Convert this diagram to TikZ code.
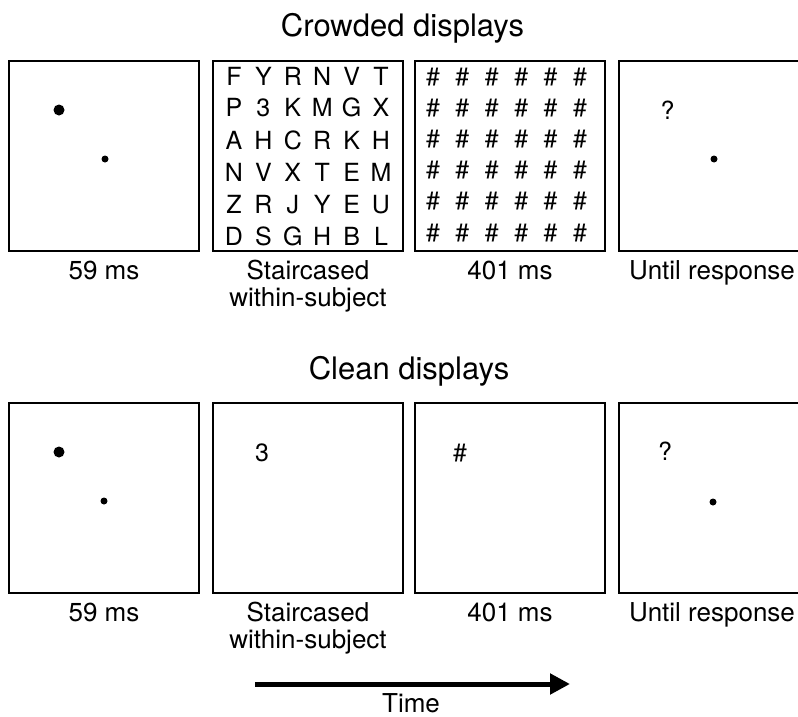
\documentclass[tikz,border=0pt]{standalone}
\usepackage{fontspec}
\setmainfont{TeX Gyre Heros}
\usetikzlibrary{arrows.meta}
\begin{document}
\begin{tikzpicture}[x=1pt,y=-1pt,
  panel/.style={draw=black,line width=1.2pt,minimum width=190pt,minimum height=190pt,inner sep=0pt},
  lbl/.style={font=\fontsize{26}{27}\selectfont,align=center,inner sep=0pt,anchor=base},
  ttl/.style={font=\fontsize{31}{34}\selectfont,inner sep=0pt,anchor=base},
  glyph/.style={font=\fontsize{25}{27}\selectfont,inner sep=0pt,text height=18pt,text depth=0pt},
  bigdot/.style={circle,fill=black,inner sep=0pt,minimum size=11pt},
  smalldot/.style={circle,fill=black,inner sep=0pt,minimum size=7pt}]
\useasboundingbox (0,0) rectangle (798,717);
\clip (0,0) rectangle (798,717);
% titles
\node[ttl] (t1) at (402.5,37) {Crowded displays};
\node[ttl] (t2) at (409,379) {Clean displays};
% top row panels
\node[panel] (a1) at (104,156) {};
\node[panel] (a2) at (308,156) {};
\node[panel] (a3) at (510,156) {};
\node[panel] (a4) at (714,156) {};
% bottom row panels
\node[panel] (b1) at (104,498) {};
\node[panel] (b2) at (308,498) {};
\node[panel] (b3) at (510,498) {};
\node[panel] (b4) at (714,498) {};
% top row contents
\node[bigdot] (ad1) at (59,110) {};
\node[smalldot] (ad2) at (105,159) {};
\foreach \row [count=\j from 0] in {{F,Y,R,N,V,T},{P,3,K,M,G,X},{A,H,C,R,K,H},{N,V,X,T,E,M},{Z,R,J,Y,E,U},{D,S,G,H,B,L}}{
  \foreach \c [count=\i from 0] in \row {
    \node[glyph] (g\j\i) at ({234+29.4*\i},{76+32*\j}) {\c};
  }
}
\foreach \j in {0,...,5}{
  \foreach \i in {0,...,5}{
    \node[glyph] (h\j\i) at ({433+29.4*\i},{76+31.2*\j}) {\#};
  }
}
\node[glyph] (aq) at (667.5,110) {?};
\node[smalldot] (ad3) at (714,159) {};
% bottom row contents
\node[bigdot] (bd1) at (59,452) {};
\node[smalldot] (bd2) at (104,501) {};
\node[glyph] (b3t) at (262,452) {3};
\node[glyph] (bh) at (460,452) {\#};
\node[glyph] (bq) at (665,451) {?};
\node[smalldot] (bd3) at (713,502) {};
% labels
\node[lbl] (la1) at (104,279) {59 ms};
\node[lbl] (la2) at (308,306) {Staircased\\within-subject};
\node[lbl] (la3) at (510,279) {401 ms};
\node[lbl] (la4) at (712,279) {Until response};
\node[lbl] (lb1) at (104,621) {59 ms};
\node[lbl] (lb2) at (308,648) {Staircased\\within-subject};
\node[lbl] (lb3) at (510,621) {401 ms};
\node[lbl] (lb4) at (712,621) {Until response};
% time arrow
\coordinate (ts) at (255,684);
\coordinate (te) at (570,684);
\draw[line width=5pt,-{Triangle[length=20pt,width=20pt]}] (ts) -- (te);
\node[lbl] (time) at (411,712) {Time};
\end{tikzpicture}
\end{document}
